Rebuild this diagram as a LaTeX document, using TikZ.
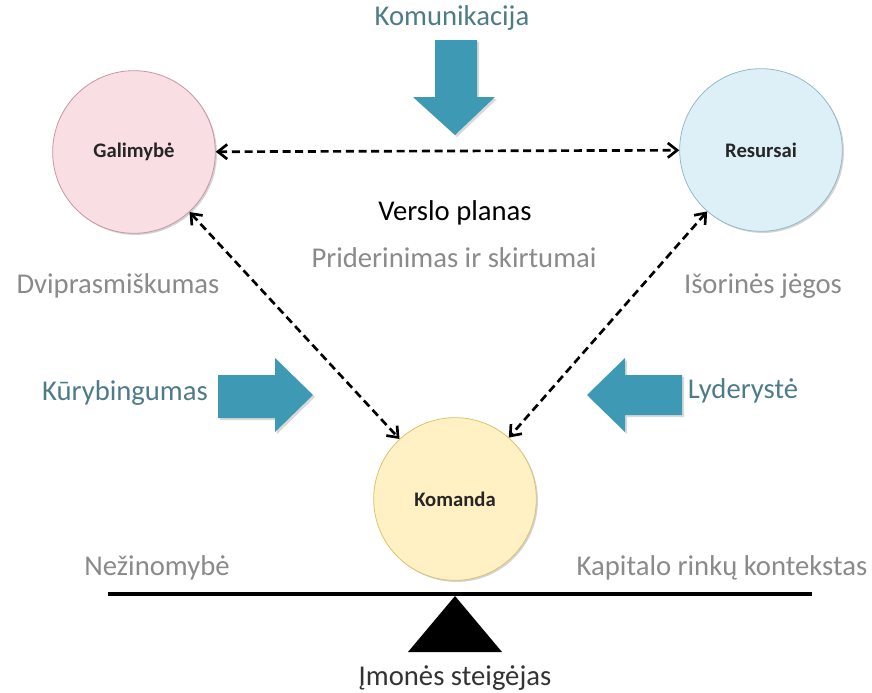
\documentclass[tikz,border=0pt]{standalone}
\usepackage{fontspec}
\setmainfont{Carlito}
\usetikzlibrary{arrows.meta}
\usetikzlibrary{shadows}

\definecolor{blockblue}{HTML}{3E9AB4}
\definecolor{tealtext}{HTML}{4D7C88}
\definecolor{greytext}{HTML}{8A8A8A}

\begin{document}
\begin{tikzpicture}[
                x=0.75pt, y=-0.75pt,
                bubble/.style={circle, draw, line width=0.6pt, minimum size=122pt, inner sep=0pt,
                    font=\fontsize{15.5}{18}\selectfont\bfseries, text=black!85,
                    drop shadow={shadow xshift=1.2pt, shadow yshift=-1.2pt, opacity=0.35}},
                label/.style={font=\fontsize{21.5}{25}\selectfont},
                link/.style={line width=2pt, dash pattern=on 6pt off 3.5pt,
                    {Straight Barb[length=7pt, width=11pt, line width=2pt]}-{Straight Barb[length=7pt, width=11pt, line width=2pt]}},
                push/.style={fill=blockblue, drop shadow={shadow xshift=1.5pt, shadow yshift=-1.5pt, opacity=0.3}}
            ]
            \useasboundingbox (0, 0) rectangle (872, 693);
            % the three circles
            \node[bubble, fill={rgb,255:red,249;green,222;blue,228}, draw={rgb,255:red,200;green,150;blue,165}] (gal) at (134, 152) {Galimybė};
            \node[bubble, fill={rgb,255:red,221;green,240;blue,247}, draw={rgb,255:red,150;green,185;blue,198}] (res) at (761, 150) {Resursai};
            \node[bubble, fill={rgb,255:red,255;green,241;blue,196}, draw={rgb,255:red,220;green,195;blue,110}] (kom) at (455, 499) {Komanda};
            \draw[link] (gal) -- (res);
            \draw[link] (gal) -- (kom);
            \draw[link] (res) -- (kom);
            % block arrows
            \fill[push] (435, 40) -- (477, 40) -- (477, 97) -- (495, 97) -- (455, 135) -- (413, 97) -- (435, 97) -- cycle;
            \fill[push] (218, 375) -- (275, 375) -- (275, 358) -- (313, 395) -- (275, 432) -- (275, 418) -- (218, 418) -- cycle;
            \fill[push] (682, 375) -- (625, 375) -- (625, 358) -- (587, 395) -- (625, 432) -- (625, 415) -- (682, 415) -- cycle;
            % texts
            \node[label, text=tealtext] (komu) at (452, 18) {Komunikacija};
            \node[label, text=tealtext] (kury) at (125, 393) {Kūrybingumas};
            \node[label, text=tealtext] (lyde) at (743, 391) {Lyderystė};
            \node[label, text=black] (vers) at (455, 213) {Verslo planas};
            \node[label, text=greytext] (prid) at (454, 258) {Priderinimas ir skirtumai};
            \node[label, text=greytext] (dvip) at (118, 286) {Dviprasmiškumas};
            \node[label, text=greytext] (isor) at (763, 286) {Išorinės jėgos};
            \node[label, text=greytext] (nezi) at (157, 568) {Nežinomybė};
            \node[label, text=greytext] (kapi) at (722, 568) {Kapitalo rinkų kontekstas};
            % balance
            \coordinate (beamL) at (108, 594);
            \coordinate (beamR) at (812, 594);
            \draw[line width=3pt] (beamL) -- (beamR);
            \fill (455, 596) -- (502, 652) -- (408, 652) -- cycle;
            \node[label, text=black!80] (imon) at (455, 678) {Įmonės steigėjas};
        \end{tikzpicture}
\end{document}
